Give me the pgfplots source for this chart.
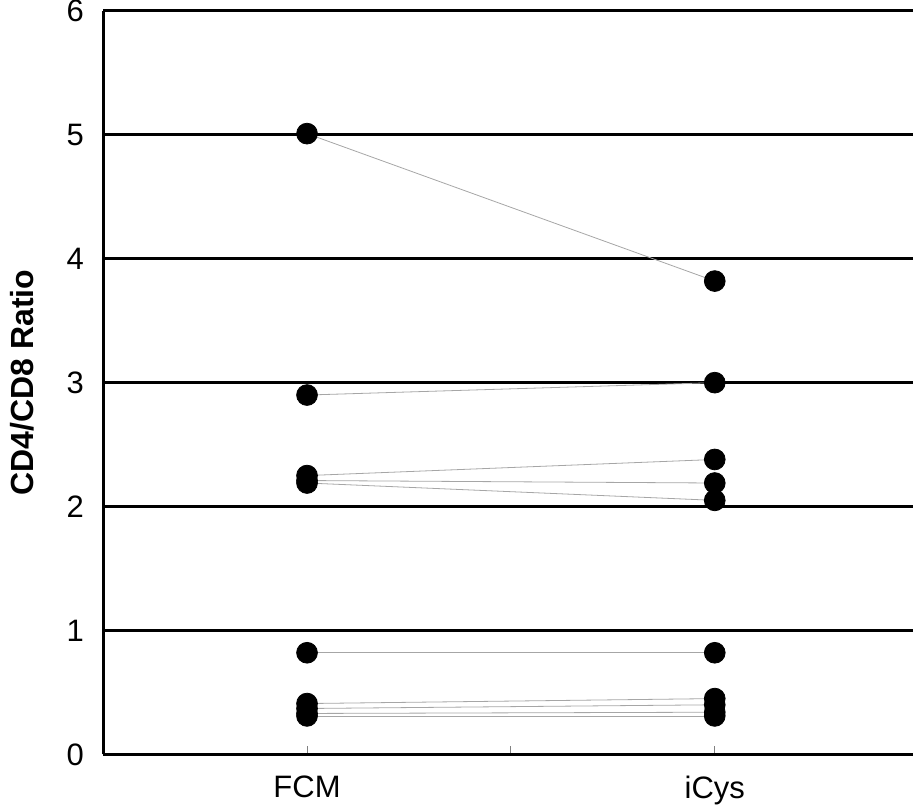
\documentclass[border=0pt]{standalone}
\usepackage{fontspec}
\setmainfont{Liberation Sans}
\usepackage{pgfplots}
\pgfplotsset{compat=1.18}

\begin{document}
\fontsize{15.5}{18}\selectfont
\begin{tikzpicture}
\begin{axis}[
  scale only axis, width=405pt, height=372pt,
  xmin=0.5, xmax=2.485, ymin=0, ymax=6,
  axis x line=bottom, axis y line=left,
  axis line style={line width=1.5pt, -},
  ytick={0,1,2,3,4,5,6},
  ymajorgrids, grid style={black, line width=1.5pt},
  xtick={1,1.5,2}, xticklabels={FCM,,iCys},
  tick align=inside, major tick length=4pt,
  x tick style={gray, line width=0.5pt},
  y tick style={draw=none},
  /pgf/number format/assume math mode=true,
  tick label style={font=\fontsize{15.5}{18}\selectfont, inner sep=0pt},
  yticklabel style={xshift=-9.5pt},
  xticklabel style={yshift=-10.5pt},
  ylabel={\bfseries CD4/CD8 Ratio},
  ylabel style={at={(axis description cs:-0.1,0.5)}, anchor=center, rotate=0,
                font=\fontsize{16}{19}\selectfont},
  every axis plot/.append style={gray!70, line width=0.4pt},
]
% connecting lines, one per sample
\addplot[no marks] coordinates {(1,5.01) (2,3.82)};
\addplot[no marks] coordinates {(1,2.90) (2,3.00)};
\addplot[no marks] coordinates {(1,2.25) (2,2.38)};
\addplot[no marks] coordinates {(1,2.21) (2,2.19)};
\addplot[no marks] coordinates {(1,2.19) (2,2.05)};
\addplot[no marks] coordinates {(1,0.82) (2,0.82)};
\addplot[no marks] coordinates {(1,0.41) (2,0.45)};
\addplot[no marks] coordinates {(1,0.37) (2,0.40)};
\addplot[no marks] coordinates {(1,0.33) (2,0.34)};
\addplot[no marks] coordinates {(1,0.31) (2,0.31)};
% points
\addplot[only marks, mark=*, mark size=5.2pt, black, mark options={fill=black}] coordinates {
  (1,5.01) (1,2.90) (1,2.25) (1,2.21) (1,2.19) (1,0.82) (1,0.41) (1,0.37) (1,0.33) (1,0.31)
  (2,3.82) (2,3.00) (2,2.38) (2,2.19) (2,2.05) (2,0.82) (2,0.45) (2,0.40) (2,0.34) (2,0.31)
};
\end{axis}
\end{tikzpicture}
\end{document}
